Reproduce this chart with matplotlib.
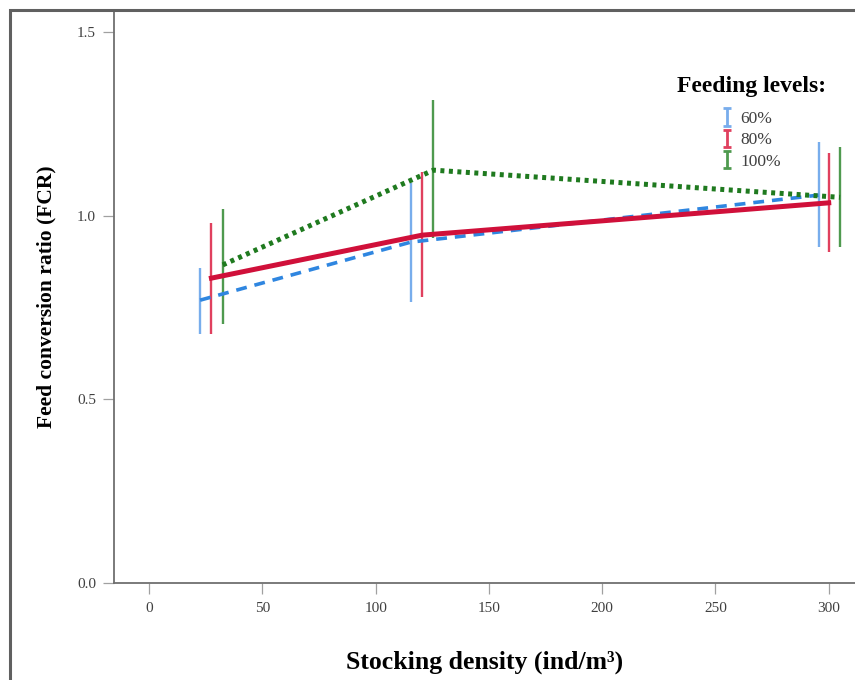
import matplotlib.pyplot as plt
from matplotlib.patches import Rectangle

plt.rcParams['font.family'] = ['Liberation Serif', 'DejaVu Serif']

levels = ["60%", "80%", "100%"]
density = {"60%": [22.5, 115.5, 295.5],
           "80%": [27.5, 120.5, 300.0],
           "100%": [32.5, 125.5, 305.0]}
fcr = {"60%": [0.770, 0.928, 1.056],
       "80%": [0.830, 0.947, 1.035],
       "100%": [0.866, 1.124, 1.050]}
ci_low = {"60%": [0.678, 0.765, 0.915],
          "80%": [0.678, 0.778, 0.900],
          "100%": [0.705, 0.940, 0.915]}
ci_high = {"60%": [0.858, 1.090, 1.200],
           "80%": [0.980, 1.119, 1.170],
           "100%": [1.018, 1.315, 1.187]}

line_col = {"60%": "#2f86e0", "80%": "#d0103a", "100%": "#1f7a1f"}
bar_col = {"60%": "#78adec", "80%": "#e0405e", "100%": "#4f9a4f"}
styles = {"60%": ((0, (3, 2.2)), 2.6), "80%": ("-", 3.6), "100%": ((0, (0.8, 0.9)), 3.6)}

fig = plt.figure(figsize=(8.55, 6.8), dpi=100)
ax = fig.add_axes([114/855, 97/680, 741/855, 573/680])

handles = []
for lv in levels:
    ls, lw = styles[lv]
    ax.plot(density[lv], fcr[lv], color=line_col[lv], linestyle=ls, linewidth=lw, zorder=3)
    ax.vlines(density[lv], ci_low[lv], ci_high[lv], color=bar_col[lv], linewidth=1.7, zorder=2)
    h = ax.errorbar([float('nan')], [float('nan')], yerr=[0.1], fmt='none',
                    ecolor=bar_col[lv], elinewidth=2, capsize=3, capthick=2)
    handles.append(h)

ax.set_xlim(-15.5, 311.6)
ax.set_ylim(0, 1.56)
ax.set_xticks([0, 50, 100, 150, 200, 250, 300])
ax.set_yticks([0.0, 0.5, 1.0, 1.5])
ax.set_yticklabels(["0.0", "0.5", "1.0", "1.5"])
ax.spines['top'].set_visible(False)
ax.spines['right'].set_visible(False)
for s in ['left', 'bottom']:
    ax.spines[s].set_color('#707070')
    ax.spines[s].set_linewidth(1.3)
ax.tick_params(axis='both', length=8, width=0.9, color='#a0a0a0', labelsize=11,
               labelcolor='#404040')
ax.tick_params(axis='x', pad=6)
ax.tick_params(axis='y', pad=5)

ax.set_xlabel("Stocking density (ind/m³)", fontsize=18.5, fontweight='bold', labelpad=25)
ax.set_ylabel("Feed conversion ratio (FCR)", fontsize=15.5, fontweight='bold', labelpad=15)

leg = ax.legend(handles, levels, title="Feeding levels:", frameon=False,
                loc='upper left', bbox_to_anchor=(0.743, 0.906),
                fontsize=12.5, handlelength=0.6, handleheight=0.7, handletextpad=0.5,
                labelspacing=0.3, borderpad=0.2)
leg.get_title().set_fontsize(17)
leg.get_title().set_fontweight('bold')
leg._legend_box.align = "center"
leg._legend_box.sep = 10
for t in leg.get_texts():
    t.set_color('#404040')

frame = Rectangle((10/855, -0.1), 1.2, 1 - 10/680 + 0.1, transform=fig.transFigure,
                  fill=False, edgecolor='#606060', linewidth=2.2, clip_on=False)
fig.patches.append(frame)

plt.savefig("out.png", dpi=100)
